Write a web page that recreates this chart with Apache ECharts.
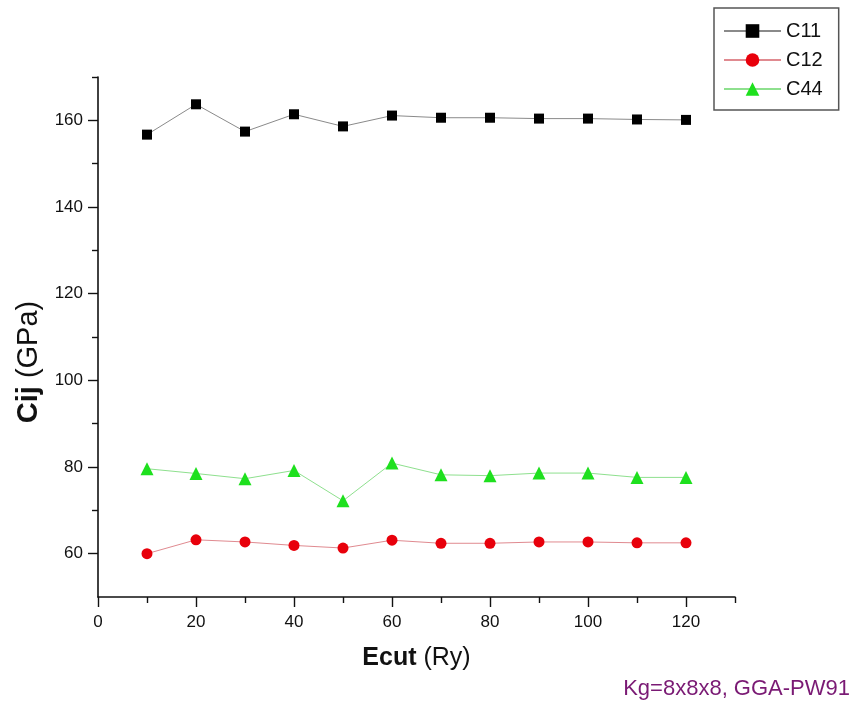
<!DOCTYPE html>
<html>
<head>
<meta charset="utf-8">
<script src="https://cdn.jsdelivr.net/npm/echarts@6/dist/echarts.min.js"></script>
<style>
  html, body { margin: 0; padding: 0; background: #fff; }
  #chart { width: 858px; height: 705px; }
</style>
</head>
<body>
<div id="chart"></div>
<script>
// Cutoff energies (Ry)
const ecut = [10, 20, 30, 40, 50, 60, 70, 80, 90, 100, 110, 120];

// Elastic constants (GPa)
const c11 = [156.7, 163.7, 157.4, 161.4, 158.6, 161.1, 160.6, 160.6, 160.4, 160.4, 160.2, 160.1];
const c12 = [60.0, 63.2, 62.7, 61.9, 61.3, 63.1, 62.4, 62.4, 62.7, 62.7, 62.5, 62.5];
const c44 = [79.6, 78.5, 77.3, 79.2, 72.2, 80.9, 78.2, 78.0, 78.6, 78.6, 77.6, 77.6];

// Tick positions
const xMajor = [0, 20, 40, 60, 80, 100, 120];
const xMinor = [10, 30, 50, 70, 90, 110, 130];
const yMajor = [60, 80, 100, 120, 140, 160];
const yMinor = [70, 90, 110, 130, 150, 170];

const FONT = '"Liberation Sans", Arial, sans-serif';

function pairs(xs, ys) { return xs.map((x, i) => [x, ys[i]]); }

const chart = echarts.init(document.getElementById('chart'), null, { renderer: 'canvas' });

const axisLine = { show: true, onZero: false, lineStyle: { color: '#111', width: 1.6 } };

chart.setOption({
  backgroundColor: '#fff',
  animation: false,
  grid: { left: 98, right: 123, top: 77, bottom: 108, containLabel: false },
  xAxis: [
    {
      type: 'value', min: 0, max: 130, interval: 10,
      axisLine: axisLine,
      axisTick: { show: true, length: 10, lineStyle: { color: '#111', width: 1.4 }, customValues: xMajor },
      axisLabel: { show: true, customValues: xMajor, margin: 17, color: '#111', fontSize: 17, fontFamily: FONT },
      splitLine: { show: false },
      name: '{b|Ecut} (Ry)', nameLocation: 'middle', nameGap: 49,
      nameTextStyle: {
        fontSize: 25, fontFamily: FONT, color: '#111',
        rich: { b: { fontSize: 25, fontWeight: 'bold', fontFamily: FONT, color: '#111' } }
      }
    },
    {
      type: 'value', min: 0, max: 130, position: 'bottom',
      axisLine: { show: false },
      axisTick: { show: true, length: 6, lineStyle: { color: '#111', width: 1.4 }, customValues: xMinor },
      axisLabel: { show: false },
      splitLine: { show: false }
    }
  ],
  yAxis: [
    {
      type: 'value', min: 50, max: 170, interval: 10,
      axisLine: axisLine,
      axisTick: { show: true, length: 10, lineStyle: { color: '#111', width: 1.4 }, customValues: yMajor },
      axisLabel: { show: true, customValues: yMajor, margin: 15, color: '#111', fontSize: 17, fontFamily: FONT },
      splitLine: { show: false }
    },
    {
      type: 'value', min: 50, max: 170, position: 'left',
      axisLine: { show: false },
      axisTick: { show: true, length: 6, lineStyle: { color: '#111', width: 1.4 }, customValues: yMinor },
      axisLabel: { show: false },
      splitLine: { show: false }
    }
  ],
  legend: {
    orient: 'vertical', left: 714, top: 8,
    padding: [13, 16, 11, 9], itemGap: 9,
    itemWidth: 57, itemHeight: 17,
    borderColor: '#555', borderWidth: 1.5,
    textStyle: { fontSize: 20, fontFamily: FONT, color: '#111' },
    data: ['C11', 'C12', 'C44']
  },
  graphic: [
    {
      type: 'text', x: 29, y: 362, rotation: Math.PI / 2,
      style: {
        text: '{b|Cij} (GPa)', align: 'center', verticalAlign: 'middle',
        fontSize: 29, fontFamily: FONT, fill: '#111',
        rich: { b: { fontSize: 29, fontWeight: 'bold', fontFamily: FONT, fill: '#111' } }
      }
    },
    {
      type: 'text', x: 850, y: 689,
      style: {
        text: 'Kg=8x8x8, GGA-PW91', align: 'right', verticalAlign: 'middle',
        fontSize: 22, fontFamily: FONT, fill: '#7a1a74'
      }
    }
  ],
  series: [
    {
      name: 'C11', type: 'line', data: pairs(ecut, c11),
      symbol: 'rect', symbolSize: 10,
      itemStyle: { color: '#000' },
      lineStyle: { color: '#8a8a8a', width: 1 }
    },
    {
      name: 'C12', type: 'line', data: pairs(ecut, c12),
      symbol: 'circle', symbolSize: 11,
      itemStyle: { color: '#e8000b' },
      lineStyle: { color: '#e08a90', width: 1 }
    },
    {
      name: 'C44', type: 'line', data: pairs(ecut, c44),
      symbol: 'triangle', symbolSize: 13,
      itemStyle: { color: '#1ee01e' },
      lineStyle: { color: '#8ee08e', width: 1 }
    }
  ]
});
</script>
</body>
</html>
